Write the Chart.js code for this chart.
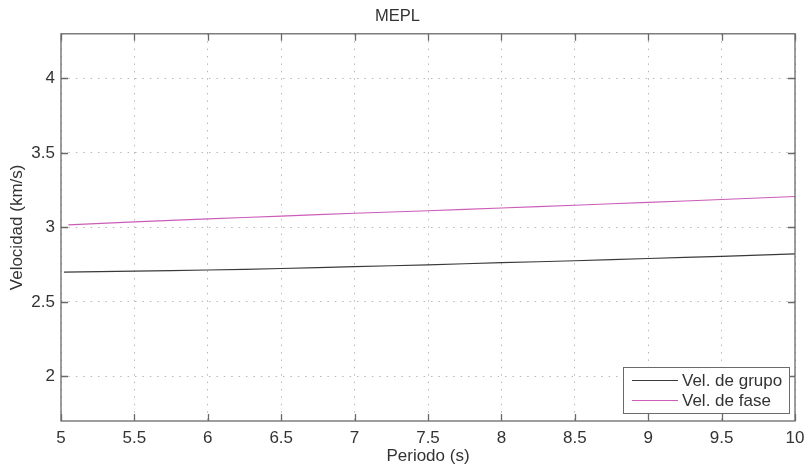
<!DOCTYPE html>
<html>
<head>
<meta charset="utf-8">
<script src="https://cdn.jsdelivr.net/npm/chart.js@4.4.1/dist/chart.umd.min.js"></script>
<style>
html,body{margin:0;padding:0;background:#fff;}
#wrap{width:808px;height:468px;}
</style>
</head>
<body>
<div id="wrap"><canvas id="c" width="808" height="468"></canvas></div>
<script>
const titleText = "MEPL";
const xLabel = "Periodo (s)";
const yLabel = "Velocidad (km/s)";
const seriesNames = ["Vel. de grupo", "Vel. de fase"];
const grupoPeriod = [5.02, 5.5, 6, 6.5, 7, 7.5, 8, 8.5, 9, 9.5, 10];
const grupoVel   = [2.700, 2.706, 2.714, 2.724, 2.736, 2.749, 2.763, 2.776, 2.791, 2.806, 2.822];
const fasePeriod = [5.05, 5.5, 6, 6.5, 7, 7.5, 8, 8.5, 9, 9.5, 10];
const faseVel    = [3.017, 3.037, 3.057, 3.076, 3.095, 3.112, 3.130, 3.149, 3.168, 3.187, 3.207];
const xTicks = [5, 5.5, 6, 6.5, 7, 7.5, 8, 8.5, 9, 9.5, 10];
const yTicks = [2, 2.5, 3, 3.5, 4];
const xRange = [5, 10];
const yRange = [1.7, 4.3];

const colors = ["#3a3a3a", "#cc5cb8"];
const FONT = "'Liberation Sans', Arial, Helvetica, sans-serif";
const textColor = "#333333";
const axisColor = "#6a6a6a";

const boxPlugin = {
  id: 'boxPlugin',
  afterDatasetsDraw(chart) {
    const ctx = chart.ctx, a = chart.chartArea;
    const xs = chart.scales.x, ys = chart.scales.y;
    ctx.save();
    ctx.strokeStyle = axisColor;
    ctx.lineWidth = 1.3;
    ctx.strokeRect(a.left, a.top, a.right - a.left, a.bottom - a.top);
    const tl = 7;
    ctx.beginPath();
    xs.ticks.forEach(t => {
      const px = Math.round(xs.getPixelForValue(t.value)) + 0.5;
      ctx.moveTo(px, a.bottom); ctx.lineTo(px, a.bottom - tl);
      ctx.moveTo(px, a.top); ctx.lineTo(px, a.top + tl);
    });
    ys.ticks.forEach(t => {
      const py = Math.round(ys.getPixelForValue(t.value)) + 0.5;
      ctx.moveTo(a.left, py); ctx.lineTo(a.left + tl, py);
      ctx.moveTo(a.right, py); ctx.lineTo(a.right - tl, py);
    });
    ctx.stroke();

    // legend
    const w = 166, h = 46;
    const lx = a.right - 6 - w, ly = a.bottom - 8 - h;
    ctx.fillStyle = '#fff';
    ctx.fillRect(lx, ly, w, h);
    ctx.lineWidth = 1;
    ctx.strokeStyle = axisColor;
    ctx.strokeRect(lx + 0.5, ly + 0.5, w, h);
    ctx.font = "17px " + FONT;
    ctx.textBaseline = 'middle';
    ctx.textAlign = 'left';
    chart.data.datasets.forEach((ds, i) => {
      const ry = ly + 13 + i * 20;
      ctx.strokeStyle = ds.borderColor;
      ctx.lineWidth = 1;
      ctx.beginPath();
      ctx.moveTo(lx + 9, ry + 0.5); ctx.lineTo(lx + 55, ry + 0.5);
      ctx.stroke();
      ctx.fillStyle = textColor;
      ctx.fillText(ds.label, lx + 59, ry + 1);
    });
    ctx.restore();
  }
};

new Chart(document.getElementById('c'), {
  type: 'scatter',
  data: {
    datasets: [
      { label: seriesNames[0], data: grupoPeriod.map((x, i) => ({x, y: grupoVel[i]})),
        showLine: true, borderColor: colors[0], borderWidth: 1.2, pointRadius: 0, tension: 0.3 },
      { label: seriesNames[1], data: fasePeriod.map((x, i) => ({x, y: faseVel[i]})),
        showLine: true, borderColor: colors[1], borderWidth: 1.1, pointRadius: 0, tension: 0.3 }
    ]
  },
  options: {
    responsive: false,
    animation: false,
    layout: { padding: { left: 0, right: 13, top: 0, bottom: 0 } },
    plugins: {
      legend: { display: false },
      tooltip: { enabled: false },
      title: { display: true, text: titleText, color: textColor,
        font: { family: FONT, size: 16.5, weight: 'normal' }, padding: { top: 7, bottom: 7 } }
    },
    scales: {
      x: {
        type: 'linear', min: xRange[0], max: xRange[1],
        afterBuildTicks: s => { s.ticks = xTicks.map(v => ({ value: v })); },
        afterFit: s => { s.height = 47; s.paddingLeft = 0; s.paddingRight = 0; },
        ticks: { color: textColor, font: { family: FONT, size: 17 }, padding: 7, maxRotation: 0,
          callback: v => String(v) },
        grid: { color: '#b8b8b8', lineWidth: 1, drawTicks: false },
        border: { display: false, dash: [1.5, 5.9] },
        title: { display: true, text: xLabel, color: textColor, font: { family: FONT, size: 17 }, padding: { top: 0, bottom: 1 } }
      },
      y: {
        type: 'linear', min: yRange[0], max: yRange[1],
        afterBuildTicks: s => { s.ticks = yTicks.map(v => ({ value: v })); },
        afterFit: s => { s.width = 61; s.paddingTop = 0; s.paddingBottom = 0; },
        ticks: { color: textColor, font: { family: FONT, size: 17 }, padding: 6,
          callback: v => String(v) },
        grid: { color: '#b8b8b8', lineWidth: 1, drawTicks: false },
        border: { display: false, dash: [1.5, 5.9] },
        title: { display: true, text: yLabel, color: textColor, font: { family: FONT, size: 17 }, padding: { top: 7, bottom: 0 } }
      }
    }
  },
  plugins: [boxPlugin]
});
</script>
</body>
</html>
